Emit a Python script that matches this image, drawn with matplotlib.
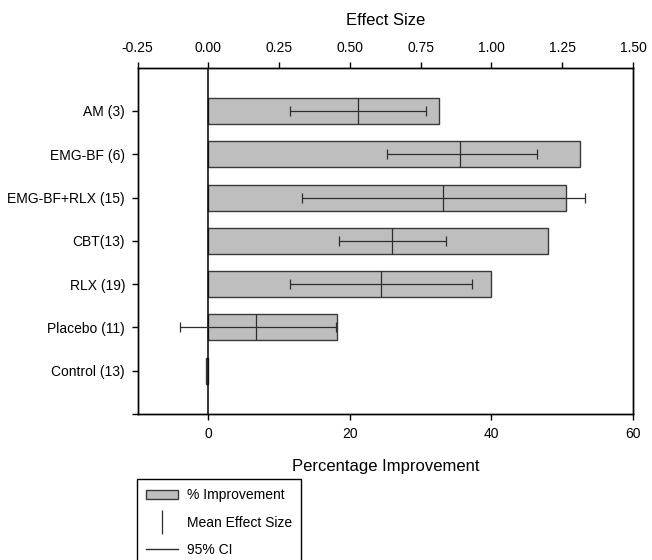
import matplotlib
matplotlib.use('Agg')
import matplotlib.pyplot as plt
from matplotlib.patches import Patch
from matplotlib.lines import Line2D

plt.rcParams['font.family'] = ['Liberation Sans', 'DejaVu Sans']
plt.rcParams['axes.unicode_minus'] = False

groups = ['AM (3)', 'EMG-BF (6)', 'EMG-BF+RLX (15)', 'CBT(13)',
          'RLX (19)', 'Placebo (11)', 'Control (13)']
pct_improvement = [32.6, 52.5, 50.5, 48.0, 39.9, 18.2, -0.3]
# effect sizes (None = not reported)
mean_es = [0.53, 0.89, 0.83, 0.65, 0.61, 0.17, None]
ci_low = [0.29, 0.63, 0.33, 0.46, 0.29, -0.10, None]
ci_high = [0.77, 1.16, 1.33, 0.84, 0.93, 0.45, None]

es_ticks = [-0.25, 0.0, 0.25, 0.5, 0.75, 1.0, 1.25, 1.5]
pct_ticks = [0, 20, 40, 60]

bar_fill = '#bebebe'
dark = '#2e2e2e'
bar_h = 0.6

ypos = list(range(len(groups), 0, -1))

fig = plt.figure(figsize=(6.52, 5.6), dpi=100)
ax = fig.add_axes([0.2109, 0.2607, 0.7600, 0.6184])

ax.barh(ypos, pct_improvement, height=bar_h, color=bar_fill,
        edgecolor='#3a3a3a', linewidth=1.0, zorder=2)
ax.axvline(0, color='black', lw=1.1, zorder=3)
ax.set_xlim(-10, 60)
ax.set_ylim(0, 8)
ax.set_xticks(pct_ticks)
ax.set_yticks([0] + ypos, [''] + groups)
ax.tick_params(direction='out', length=4, width=1, labelsize=10, pad=5)
ax.set_xlabel('Percentage Improvement', fontsize=12, labelpad=13)

# effect size scale on top
ax2 = ax.twiny()
ax2.set_xlim(-0.25, 1.5)
ax2.set_xticks(es_ticks)
ax2.xaxis.set_major_formatter('{x:.2f}')
ax2.tick_params(direction='out', length=4, width=1, labelsize=10, pad=5)
ax2.set_xlabel('Effect Size', fontsize=12, labelpad=12)

for y, m, lo, hi in zip(ypos, mean_es, ci_low, ci_high):
    if m is None:
        continue
    ax2.vlines(m, y - bar_h / 2, y + bar_h / 2, color=dark, lw=0.9, zorder=4)
    ax2.errorbar(m, y, xerr=[[m - lo], [hi - m]], fmt='none', ecolor=dark,
                 elinewidth=0.9, capsize=3.6, capthick=0.9, zorder=4)

for a in (ax, ax2):
    for s in a.spines.values():
        s.set_color('black')
        s.set_linewidth(1.0)

handles = [
    Patch(facecolor=bar_fill, edgecolor='#3a3a3a', linewidth=1.0),
    Line2D([], [], color=dark, marker='|', markersize=17,
           markeredgewidth=0.9, linestyle='none'),
    Line2D([], [], color=dark, lw=1.0),
]
labels = ['% Improvement', 'Mean Effect Size', '95% CI']
leg = fig.legend(handles, labels, loc='upper left',
                 bbox_to_anchor=(137.3 / 652, 1 - 479.3 / 560),
                 bbox_transform=fig.transFigure, borderaxespad=0,
                 frameon=True, fancybox=False, edgecolor='black',
                 framealpha=1, fontsize=10, handlelength=2.3,
                 handletextpad=0.6, borderpad=0.65, labelspacing=0.95)
leg.get_frame().set_linewidth(1.0)

fig.savefig('out.png', dpi=100)
